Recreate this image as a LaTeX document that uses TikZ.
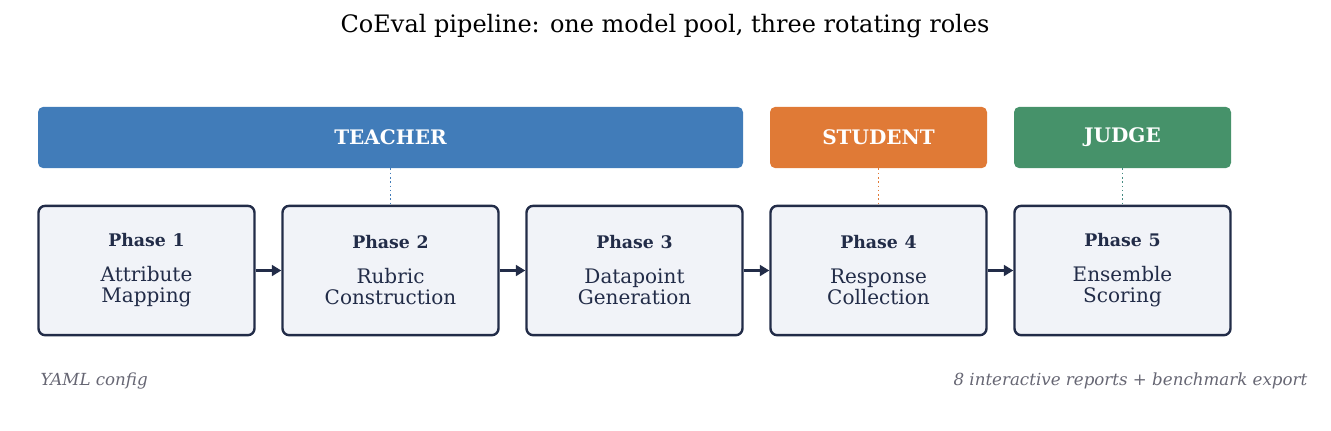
\documentclass[tikz,border=0pt]{standalone}
\usepackage{fontspec}
\setmainfont{DejaVu Serif}
\usetikzlibrary{arrows.meta, positioning}
\definecolor{teachercol}{HTML}{417CB9}
\definecolor{studentcol}{HTML}{E07A36}
\definecolor{judgecol}{HTML}{46926A}
\definecolor{phasefill}{HTML}{F1F3F8}
\definecolor{phaseline}{HTML}{222C48}
\definecolor{notecol}{HTML}{666673}
\tikzset{
  phase/.style = {rectangle, draw=phaseline, line width=1.8pt, fill=phasefill,
    rounded corners=5pt, minimum width=162pt, minimum height=97pt,
    text width=150pt, align=center, text=phaseline, font=\fontsize{15}{16}\selectfont},
  role/.style = {rectangle, rounded corners=4pt, minimum height=46pt,
    text=white, font=\bfseries\fontsize{15}{17}\selectfont},
  arrow/.style = {line width=2pt, -{Triangle[length=7pt,width=8pt]}, draw=phaseline},
  link/.style = {dotted, line width=1.2pt},
  note/.style = {text=notecol, font=\itshape\fontsize{12.5}{14}\selectfont}
}
\newcommand{\phasetext}[2]{{\bfseries\fontsize{13}{14}\selectfont Phase #1}\\[10pt]#2}
\begin{document}
\begin{tikzpicture}[x=0.75pt, y=-0.75pt]
  \useasboundingbox (0,0) rectangle (1331,430);
  % Title
  \node (title) at (665,26) {\fontsize{18}{20}\selectfont CoEval pipeline: one model pool, three rotating roles};
  % Roles
  \node [role, fill=teachercol, minimum width=528.75pt] (teacher) at (390.5,137.5) {TEACHER};
  \node [role, fill=studentcol, minimum width=162.75pt] (student) at (878.5,137.5) {STUDENT};
  \node [role, fill=judgecol, minimum width=162.75pt] (judge) at (1122.5,137.5) {JUDGE};
  % Phases
  \node [phase] (p1) at (146.5,270.5) {\phasetext{1}{Attribute\\Mapping}};
  \node [phase] (p2) at (390.5,270.5) {\phasetext{2}{Rubric\\Construction}};
  \node [phase] (p3) at (634.5,270.5) {\phasetext{3}{Datapoint\\Generation}};
  \node [phase] (p4) at (878.5,270.5) {\phasetext{4}{Response\\Collection}};
  \node [phase] (p5) at (1122.5,270.5) {\phasetext{5}{Ensemble\\Scoring}};
  % Arrows
  \draw [arrow] (p1) -- (p2);
  \draw [arrow] (p2) -- (p3);
  \draw [arrow] (p3) -- (p4);
  \draw [arrow] (p4) -- (p5);
  % Role links
  \draw [link, teachercol] (teacher.south) -- (p2.north);
  \draw [link, studentcol] (student.south) -- (p4.north);
  \draw [link, judgecol!70!teachercol] (judge.south) -- (p5.north);
  % Notes
  \node [note, anchor=west] (input) at (36,381) {YAML config};
  \node [note, anchor=east] (output) at (1312,381) {8 interactive reports + benchmark export};
\end{tikzpicture}
\end{document}
